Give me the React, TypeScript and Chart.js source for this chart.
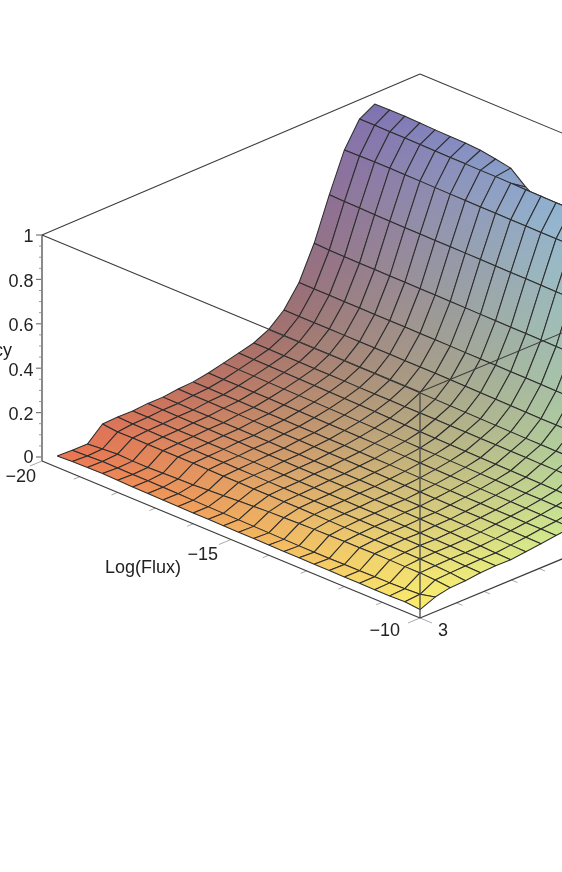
import React, { useEffect, useRef } from "react";
import { Chart, registerables } from "chart.js";

Chart.register(...registerables);

// Log(Flux) grid: -19.6 ... -10 in 0.4 steps (25 columns); rows run along the second axis.
const fluxValues = [-19.6,-19.2,-18.8,-18.4,-18,-17.6,-17.2,-16.8,-16.4,-16,-15.6,-15.2,-14.8,-14.4,-14,-13.6,-13.2,-12.8,-12.4,-12,-11.6,-11.2,-10.8,-10.4,-10];
const row00 = [.033,.036,.038,.039,.037,.035,.034,.033,.032,.031,.031,.030,.029,.029,.028,.027,.027,.026,.026,.025,.025,.024,.025,.027,.020];
const row01 = [.030,.033,.036,.035,.034,.034,.033,.032,.031,.030,.029,.028,.027,.026,.025,.024,.024,.024,.025,.025,.026,.027,.029,.032,.048];
const row02 = [.030,.036,.041,.038,.038,.040,.042,.044,.048,.052,.056,.060,.064,.066,.068,.070,.071,.072,.072,.073,.073,.072,.072,.068,.062];
const row03 = [.092,.084,.086,.085,.085,.085,.085,.084,.083,.083,.082,.082,.081,.081,.080,.080,.079,.079,.079,.079,.079,.078,.076,.072,.065];
const row04 = [.095,.092,.091,.090,.089,.089,.088,.088,.087,.087,.086,.086,.085,.085,.085,.084,.084,.083,.083,.083,.082,.080,.078,.075,.073];
const row05 = [.094,.094,.093,.092,.092,.091,.091,.090,.090,.089,.089,.088,.088,.087,.087,.086,.086,.085,.084,.082,.081,.080,.078,.077,.076];
const row06 = [.100,.099,.098,.097,.097,.096,.096,.095,.094,.094,.093,.093,.092,.092,.091,.090,.090,.089,.088,.086,.084,.082,.080,.077,.075];
const row07 = [.100,.100,.099,.099,.098,.098,.097,.097,.096,.096,.095,.095,.094,.094,.093,.092,.091,.090,.089,.088,.087,.086,.085,.084,.082];
const row08 = [.108,.107,.107,.106,.106,.105,.105,.104,.104,.103,.102,.102,.101,.100,.099,.098,.097,.096,.095,.094,.094,.093,.092,.091,.090];
const row09 = [.112,.112,.111,.111,.110,.110,.110,.109,.109,.108,.108,.107,.106,.106,.105,.104,.103,.103,.102,.102,.101,.101,.100,.100,.099];
const row10 = [.124,.123,.123,.122,.122,.121,.121,.120,.119,.119,.118,.118,.117,.116,.114,.113,.112,.112,.111,.110,.110,.109,.108,.107,.106];
const row11 = [.140,.139,.138,.137,.136,.135,.134,.133,.132,.131,.130,.128,.127,.125,.125,.124,.123,.122,.122,.121,.120,.120,.119,.119,.118];
const row12 = [.157,.156,.155,.154,.153,.152,.151,.150,.149,.148,.146,.144,.142,.141,.140,.139,.138,.137,.136,.135,.134,.133,.132,.131,.130];
const row13 = [.174,.174,.173,.173,.172,.172,.172,.171,.171,.171,.170,.170,.170,.169,.169,.168,.168,.167,.167,.166,.166,.165,.165,.164,.164];
const row14 = [.207,.207,.207,.207,.207,.207,.206,.206,.205,.205,.204,.203,.202,.201,.200,.199,.198,.197,.197,.196,.196,.195,.195,.194,.194];
const row15 = [.266,.265,.265,.265,.265,.265,.265,.265,.264,.264,.264,.263,.262,.261,.260,.259,.258,.257,.257,.256,.256,.255,.255,.254,.254];
const row16 = [.362,.361,.361,.360,.360,.359,.359,.359,.358,.358,.358,.357,.357,.357,.356,.356,.355,.354,.353,.352,.352,.351,.351,.350,.350];
const row17 = [.510,.507,.506,.505,.505,.504,.504,.503,.503,.502,.502,.501,.501,.500,.500,.499,.498,.497,.496,.495,.495,.494,.494,.493,.493];
const row18 = [.700,.698,.697,.695,.694,.693,.693,.692,.692,.692,.692,.691,.690,.690,.689,.688,.687,.686,.686,.685,.685,.684,.684,.683,.683];
const row19 = [.874,.875,.876,.876,.875,.875,.874,.873,.873,.872,.872,.871,.871,.870,.870,.870,.869,.868,.868,.867,.867,.866,.866,.865,.865];
const row20 = [.985,.985,.984,.984,.983,.982,.981,.981,.980,.980,.979,.978,.977,.976,.975,.974,.973,.973,.972,.972,.971,.971,.970,.970,.969];
const row21 = [1.024,1.026,1.026,1.024,1.021,1.019,1.018,1.014,1.003,.990,.933,.890,.850,.820,.800,.790,.780,.770,.760,.750,.745,.740,.735,.730,.725];
const efficiencyRows = [row00,row01,row02,row03,row04,row05,row06,row07,row08,row09,row10,row11,row12,row13,row14,row15,row16,row17,row18,row19,row20,row21];

const zMajorTicks = [0, 0.2, 0.4, 0.6, 0.8, 1];
const zMajorLabels = ["0", "0.2", "0.4", "0.6", "0.8", "1"];
const zMinorTicks = [.05,.1,.15,.25,.3,.35,.45,.5,.55,.65,.7,.75,.85,.9,.95];
const fluxAxisTicks = [-20,-19,-18,-17,-16,-15,-14,-13,-12,-11,-10];
const fluxAxisMajor = [-20,-15,-10];
const secondAxisTicks = [0.0965,0.1693,0.2421,0.3149];

const W = 562, H = 872;
const BOX = { x0: 42, y0: 461, dx: 378, dy: 157, zPx: 222, zLift: 4 };
const FONT = '18px "Liberation Sans", Arial, sans-serif';
const TEXT = "#222";
const LINE = "rgb(46,46,46)";
const FRAME = "rgb(60,60,60)";

const uOfFlux = (f: number) => (f + 20) / 10;
const vOfRow = (j: number) => j * 0.04;
function proj(u: number, v: number, z: number) {
  return {
    x: BOX.x0 + BOX.dx * (u + v),
    y: BOX.y0 + BOX.dy * (u - v) - BOX.zLift - BOX.zPx * z,
  };
}
const clamp = (n: number) => Math.max(0, Math.min(255, Math.round(n)));
function shade(u: number, v: number, z: number): number[] {
  const r = 236 + 16 * u - 132 * v + 10 * u * v;
  const g = 112 + 124 * u - 14 * v + 8 * z;
  const b = 78 + 28 * u + 24 * v + 74 * z + 56 * u * v;
  return [clamp(r), clamp(g), clamp(b)];
}
const css = (c: number[]) => `rgb(${c[0]},${c[1]},${c[2]})`;

function segment(a: any, b: any, color: string, width: number) {
  return {
    data: [a, b], showLine: true, pointRadius: 0, borderColor: color,
    borderWidth: width, fill: false, tension: 0, borderCapStyle: "butt",
  };
}

export default function App() {
  const ref = useRef<HTMLCanvasElement | null>(null);
  useEffect(() => {
    const canvas = ref.current!;
    const ctx = canvas.getContext("2d")!;
    const top: any[] = [];    // drawn last
    const cells: any[] = [];
    const back: any[] = [];   // drawn first

    const zz = (j: number, i: number) => efficiencyRows[j][i];
    const cellList: { key: number; ds: any }[] = [];
    for (let j = 0; j < efficiencyRows.length - 1; j++) {
      for (let i = 0; i < fluxValues.length - 1; i++) {
        const u0 = uOfFlux(fluxValues[i]), u1 = uOfFlux(fluxValues[i + 1]);
        const v0 = vOfRow(j), v1 = vOfRow(j + 1);
        const a = proj(u0, v0, zz(j, i));
        const b = proj(u1, v0, zz(j, i + 1));
        const c = proj(u1, v1, zz(j + 1, i + 1));
        const d = proj(u0, v1, zz(j + 1, i));
        const grad = ctx.createLinearGradient(d.x, d.y, b.x, b.y);
        grad.addColorStop(0, css(shade(u0, v1, zz(j + 1, i))));
        grad.addColorStop(1, css(shade(u1, v0, zz(j, i + 1))));
        cellList.push({
          key: i - j,
          ds: {
            data: [a, b, c, d, a], showLine: true, pointRadius: 0,
            borderColor: LINE, borderWidth: 1.05, tension: 0, fill: "shape",
            backgroundColor: grad, borderJoinStyle: "round",
          },
        });
      }
    }
    cellList.sort((p, q) => q.key - p.key);
    cellList.forEach((c) => cells.push(c.ds));

    const floorZ = -4 / 222;
    const tl = proj(0, 0, 1.0);
    const tf = proj(1, 0, 1.0);
    const tr = proj(1, 1, 1.018);
    const tb = proj(0, 1, 1.018);
    const bl = proj(0, 0, floorZ);
    const bf = proj(1, 0, floorZ);
    const br = proj(1, 1, floorZ);
    top.push(segment(tl, tf, FRAME, 1.1), segment(tf, proj(1, 1, 1.0), FRAME, 1.1), segment(tf, bf, "rgb(72,72,72)", 1.3));
    back.push(segment(tl, tb, FRAME, 1.1), segment(tb, tr, FRAME, 1.1));
    back.push(segment(bl, bf, FRAME, 1.3), segment(bf, br, FRAME, 1.3));

    // z axis
    back.push(segment(bl, tl, "#8a8a8a", 2));
    zMajorTicks.forEach((z) => {
      const p = proj(0, 0, z);
      back.push(segment(p, { x: p.x - 6, y: p.y }, "#777", 1.2));
    });
    zMinorTicks.forEach((z) => {
      const p = proj(0, 0, z);
      back.push(segment(p, { x: p.x - 3, y: p.y }, "#999", 1));
    });
    // flux axis ticks
    fluxAxisTicks.forEach((f) => {
      const u = uOfFlux(f);
      const len = fluxAxisMajor.includes(f) ? 0.032 : 0.016;
      back.push(segment(proj(u, 0, floorZ), proj(u, -len, floorZ), "#aaa", 1));
    });
    // second axis ticks
    back.push(segment(proj(1, 0, floorZ), proj(1.032, 0, floorZ), "#aaa", 1));
    secondAxisTicks.forEach((v) => {
      back.push(segment(proj(1, v, floorZ), proj(1.016, v, floorZ), "#aaa", 1));
    });

    const labels = {
      id: "surfaceLabels",
      afterDraw(chart: any) {
        const c = chart.ctx;
        const sx = chart.scales.x, sy = chart.scales.y;
        const put = (s: string, x: number, y: number, align: CanvasTextAlign) => {
          c.textAlign = align;
          c.fillText(s, sx.getPixelForValue(x), sy.getPixelForValue(y));
        };
        c.save();
        c.font = FONT;
        c.fillStyle = TEXT;
        c.textBaseline = "middle";
        zMajorLabels.forEach((s, k) => {
          const p = proj(0, 0, zMajorTicks[k]);
          put(s, 33.5, p.y + (k === 0 ? 1 : 2.5), "right");
        });
        put("Efficiency", 12, 351, "right");
        put("\u221220", 36, 477.5, "right");
        put("\u221215", 218, 555, "right");
        put("Log(Flux)", 181, 568.5, "right");
        put("\u221210", 400, 631, "right");
        put("3", 448, 631, "right");
        c.restore();
      },
    };

    const chart = new Chart(canvas, {
      type: "scatter",
      data: { datasets: [...top, ...cells, ...back] },
      plugins: [labels],
      options: {
        responsive: false,
        animation: false,
        events: [],
        layout: { padding: 0 },
        plugins: { legend: { display: false }, tooltip: { enabled: false }, title: { display: false } },
        scales: {
          x: { type: "linear", min: 0, max: W, display: false },
          y: { type: "linear", min: 0, max: H, reverse: true, display: false },
        },
      },
    } as any);
    return () => chart.destroy();
  }, []);
  return (
    <div style={{ position: "absolute", left: 0, top: 0, width: W, height: H, overflow: "hidden" }}>
      <canvas ref={ref} width={W} height={H} style={{ display: "block", width: W, height: H }} />
    </div>
  );
}
